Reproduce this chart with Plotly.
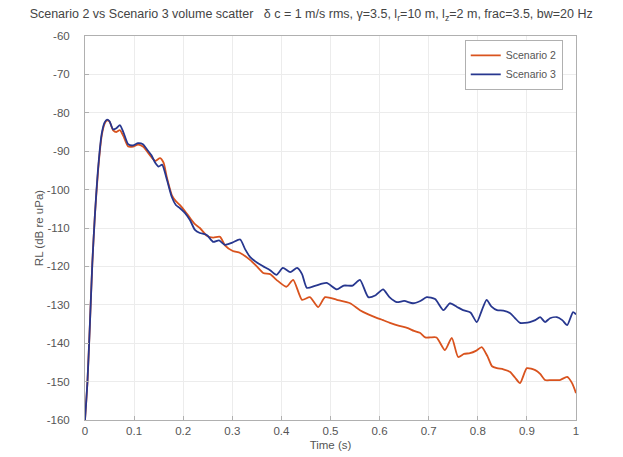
import plotly.graph_objects as go

# Scenario 3 (blue)
t3 = [0, 0.005, 0.01, 0.015, 0.02, 0.027, 0.034, 0.04, 0.045, 0.05, 0.057, 0.064, 0.071, 0.078,
      0.088, 0.098, 0.108, 0.118, 0.126, 0.135, 0.143, 0.15, 0.157, 0.167, 0.177, 0.185, 0.193,
      0.203, 0.214, 0.224, 0.234, 0.248, 0.261, 0.273, 0.285, 0.3, 0.316, 0.326, 0.336, 0.35,
      0.363, 0.377, 0.39, 0.403, 0.418, 0.432, 0.442, 0.452, 0.47, 0.492, 0.513, 0.527, 0.545,
      0.56, 0.577, 0.592, 0.607, 0.62, 0.635, 0.65, 0.668, 0.683, 0.696, 0.713, 0.73, 0.743,
      0.757, 0.77, 0.785, 0.798, 0.808, 0.818, 0.828, 0.839, 0.852, 0.866, 0.876, 0.886, 0.896,
      0.906, 0.917, 0.927, 0.937, 0.947, 0.961, 0.972, 0.982, 0.994, 1.0]
rl3 = [-160, -150, -135, -119, -107, -94, -85.5, -82.5, -81.8, -82.2, -84.3, -84, -83.2, -85,
       -88.2, -88.5, -87.9, -88.2, -89.5, -91, -93, -94, -93.5, -97.5, -102, -104, -104.8,
       -106, -108, -110.5, -111.3, -111.8, -113.6, -113.2, -114.4, -113.8, -113, -115.5, -117.5, -119,
       -120, -121, -122.2, -120.4, -121.5, -120.4, -122, -125.6, -125, -124.3, -126, -125, -125,
       -123.5, -128, -127.5, -126, -128, -129.3, -129, -129.6, -129, -128, -128.5, -131.4, -129.6,
       -130.5, -131.4, -132, -134.5, -131.5, -128.7, -130.5, -131.4, -131.5, -132.2, -133.5, -134.7, -134.7,
       -134.5, -134, -133.2, -134.5, -133.5, -133.2, -134, -135.3, -131.9, -132.5]

# Scenario 2 (orange)
t2 = [0, 0.005, 0.01, 0.015, 0.02, 0.027, 0.034, 0.04, 0.045, 0.05, 0.057, 0.064, 0.071, 0.078,
      0.088, 0.098, 0.108, 0.118, 0.126, 0.135, 0.143, 0.153, 0.16, 0.167, 0.177, 0.185, 0.193,
      0.203, 0.214, 0.224, 0.234, 0.248, 0.261, 0.275, 0.285, 0.301, 0.316, 0.336, 0.35, 0.363,
      0.377, 0.39, 0.41, 0.424, 0.442, 0.458, 0.475, 0.489, 0.513, 0.54, 0.56, 0.577, 0.594,
      0.607, 0.621, 0.64, 0.656, 0.67, 0.682, 0.693, 0.703, 0.716, 0.733, 0.747, 0.76, 0.772,
      0.784, 0.796, 0.808, 0.82, 0.829, 0.839, 0.852, 0.866, 0.876, 0.886, 0.9, 0.917, 0.927,
      0.937, 0.95, 0.967, 0.982, 0.992, 1.0]
rl2 = [-160, -150, -135, -119, -107, -94.5, -86, -82.8, -82, -82.3, -84.5, -85, -84.5, -86,
       -88.8, -88.8, -88.3, -88.8, -90, -91.5, -92.5, -91.8, -93, -97, -101.5, -103, -104,
       -105.5, -107.4, -109, -110, -112, -112.5, -112.3, -114.5, -116, -116.5, -118.3, -120, -121.7,
       -122, -123.5, -125.3, -123.5, -128.7, -128, -130.6, -128, -128.7, -129.6, -131.4, -132.5, -133.4,
       -134, -134.7, -135.5, -136, -136.8, -137.3, -138.5, -138.5, -138.5, -141.8, -138.6, -143.6, -142.8,
       -142.6, -142, -141, -143.5, -146, -146.5, -146.8, -147.5, -149, -150.4, -146.5, -147, -148,
       -149.6, -149.6, -149.6, -148.8, -150.4, -153]

x_ticks = [0, 0.1, 0.2, 0.3, 0.4, 0.5, 0.6, 0.7, 0.8, 0.9, 1]
x_tick_labels = ["0", "0.1", "0.2", "0.3", "0.4", "0.5", "0.6", "0.7", "0.8", "0.9", "1"]
y_ticks = [-160, -150, -140, -130, -120, -110, -100, -90, -80, -70, -60]
y_tick_labels = ["-160", "-150", "-140", "-130", "-120", "-110", "-100", "-90", "-80", "-70", "-60"]

title_text = ("Scenario 2 vs Scenario 3 volume scatter   \u03b4 c = 1 m/s rms, \u03b3=3.5, "
              "l<sub>r</sub>=10 m, l<sub>z</sub>=2 m, frac=3.5, bw=20 Hz")

FONT = "Liberation Sans, Arial, sans-serif"

fig = go.Figure()
fig.add_trace(go.Scatter(x=t2, y=rl2, mode="lines", name="Scenario 2",
                         line=dict(color="#D9531E", width=1.8, shape="spline", smoothing=0.6)))
fig.add_trace(go.Scatter(x=t3, y=rl3, mode="lines", name="Scenario 3",
                         line=dict(color="#27378F", width=1.8, shape="spline", smoothing=0.6)))

axis_common = dict(showline=True, linecolor="#b0b0b0", linewidth=1, mirror=True,
                   showgrid=True, gridcolor="#ececec", gridwidth=1, zeroline=False,
                   ticks="inside", ticklen=4, tickcolor="#b0b0b0", automargin=False,
                   tickfont=dict(family=FONT, size=11.5, color="#555555"))

fig.update_xaxes(range=[0, 1], tickvals=x_ticks, ticktext=x_tick_labels,
                 title=dict(text="Time (s)", standoff=5,
                            font=dict(family=FONT, size=11.5, color="#555555")),
                 **axis_common)
fig.update_yaxes(range=[-160, -60], tickvals=y_ticks, ticktext=y_tick_labels,
                 ticklabelstandoff=12,
                 title=dict(text="RL (dB re uPa)", standoff=0,
                            font=dict(family=FONT, size=11.5, color="#555555")),
                 **axis_common)

fig.update_layout(
    width=615, height=449,
    margin=dict(l=77, r=47, t=28, b=37),
    paper_bgcolor="white", plot_bgcolor="white",
    title=dict(text=title_text, x=0.493, xref="container", xanchor="center",
               y=1 - 6 / 449, yref="container", yanchor="middle",
               font=dict(family=FONT, size=12.5, color="#444444")),
    legend=dict(x=0.973, y=0.99, xanchor="right", yanchor="top",
                bgcolor="white", bordercolor="#b0b0b0", borderwidth=1,
                font=dict(family=FONT, size=10.5, color="#555555"),
                tracegroupgap=0, itemwidth=30),
    showlegend=True,
)

fig.write_html("out.html")
